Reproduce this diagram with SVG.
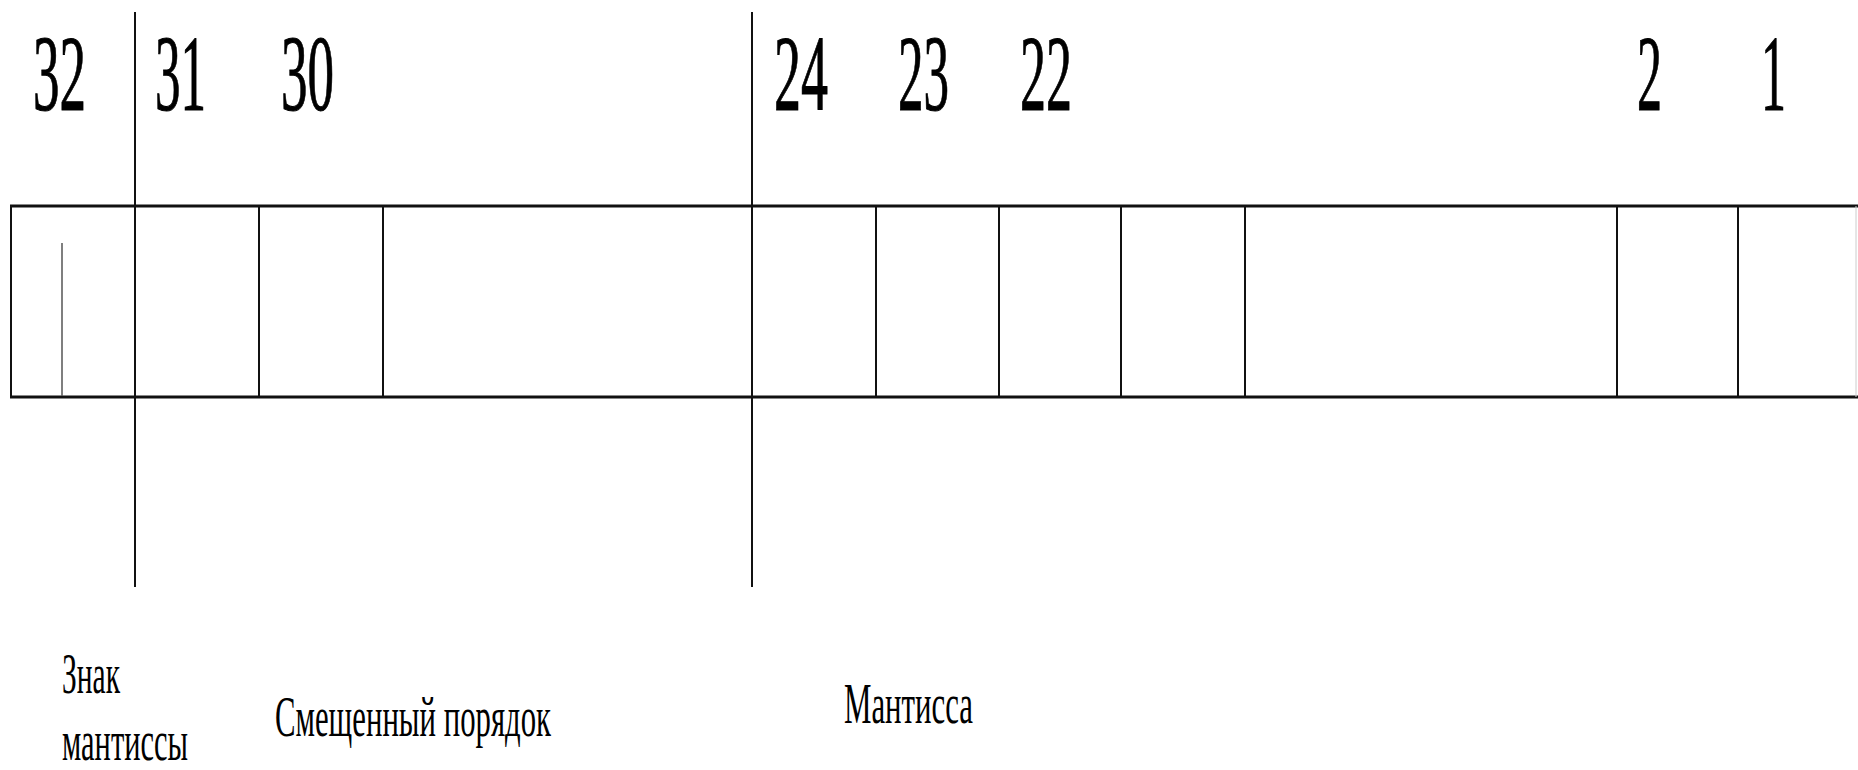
<svg xmlns="http://www.w3.org/2000/svg" width="1858" height="770" viewBox="0 0 1858 770">
<style>
.num{font-family:"Liberation Serif","Times New Roman",serif;font-size:108px;fill:#000;stroke:#000;stroke-width:1}
.lbl{font-family:"Liberation Serif","Times New Roman",serif;font-size:56px;fill:#000}
.h{stroke:#111;stroke-width:3;fill:none}
.v{stroke:#111;stroke-width:2;fill:none}
</style>
<rect width="1858" height="770" fill="#fff"/>
<g id="bit-numbers">
<text class="num" x="33" y="110" textLength="53" lengthAdjust="spacingAndGlyphs">32</text>
<text class="num" x="155" y="110" textLength="51" lengthAdjust="spacingAndGlyphs">31</text>
<text class="num" x="281" y="110" textLength="53" lengthAdjust="spacingAndGlyphs">30</text>
<text class="num" x="774" y="110" textLength="54" lengthAdjust="spacingAndGlyphs">24</text>
<text class="num" x="898" y="110" textLength="51" lengthAdjust="spacingAndGlyphs">23</text>
<text class="num" x="1020" y="110" textLength="52" lengthAdjust="spacingAndGlyphs">22</text>
<text class="num" x="1637" y="110" textLength="25" lengthAdjust="spacingAndGlyphs">2</text>
<text class="num" x="1761" y="110" textLength="25" lengthAdjust="spacingAndGlyphs">1</text>
</g>
<g id="register">
<line class="h" x1="10" y1="206" x2="1858" y2="206"/>
<line class="h" x1="10" y1="397" x2="1858" y2="397"/>
<line class="v" x1="11" y1="206" x2="11" y2="397"/>
<line class="v" x1="259" y1="206" x2="259" y2="397"/>
<line class="v" x1="383" y1="206" x2="383" y2="397"/>
<line class="v" x1="876" y1="206" x2="876" y2="397"/>
<line class="v" x1="999" y1="206" x2="999" y2="397"/>
<line class="v" x1="1121" y1="206" x2="1121" y2="397"/>
<line class="v" x1="1245" y1="206" x2="1245" y2="397"/>
<line class="v" x1="1617" y1="206" x2="1617" y2="397"/>
<line class="v" x1="1738" y1="206" x2="1738" y2="397"/>
<line x1="1856" y1="206" x2="1856" y2="397" stroke="#ccc" stroke-width="1"/>
<line x1="62" y1="243" x2="62" y2="396" stroke="#555" stroke-width="1.5"/>
</g>
<g id="dividers">
<line class="v" x1="135" y1="12" x2="135" y2="587"/>
<line class="v" x1="752" y1="12" x2="752" y2="587"/>
</g>
<g id="field-labels">
<text class="lbl" x="62" y="693" textLength="58" lengthAdjust="spacingAndGlyphs">Знак</text>
<text class="lbl" x="62" y="760" textLength="126" lengthAdjust="spacingAndGlyphs">мантиссы</text>
<text class="lbl" x="275" y="736" textLength="276" lengthAdjust="spacingAndGlyphs">Смещенный порядок</text>
<text class="lbl" x="844" y="723" textLength="129" lengthAdjust="spacingAndGlyphs">Мантисса</text>
</g>
</svg>
